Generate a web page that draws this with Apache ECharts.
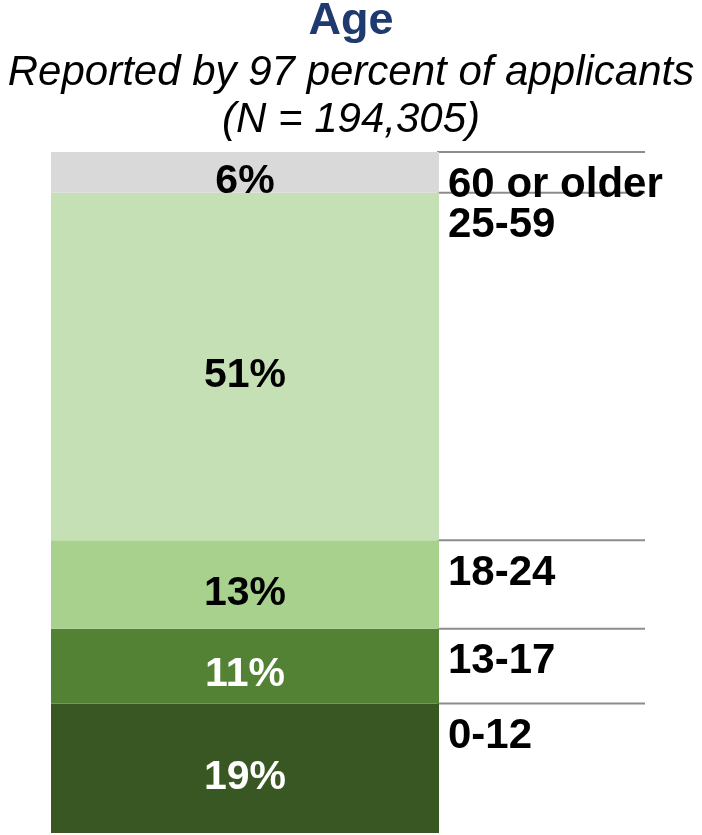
<!DOCTYPE html>
<html>
<head>
<meta charset="utf-8">
<script src="https://cdn.jsdelivr.net/npm/echarts@6/dist/echarts.min.js"></script>
<style>
  html, body { margin: 0; padding: 0; background: #ffffff; }
  #chart { width: 702px; height: 835px; }
</style>
</head>
<body>
<div id="chart"></div>
<script>
// ---- Data (bottom to top) ----
const categories = ['0-12', '13-17', '18-24', '25-59', '60 or older'];
const shares = [19, 11, 13, 51, 6];
const segmentColors = ['#385723', '#548235', '#a9d18e', '#c5e0b4', '#d9d9d9'];
const labelColors = ['#ffffff', '#ffffff', '#000000', '#000000', '#000000'];
const titleText = 'Age';
const subtitleLines = ['Reported by 97 percent of applicants', '(N = 194,305)'];

const FONT = '"Liberation Sans", Arial, sans-serif';

// cumulative top of each segment
const tops = [];
let acc = 0;
shares.forEach(function (s) { acc += s; tops.push(acc); });

const barSeries = categories.map(function (name, i) {
  return {
    name: name,
    type: 'bar',
    stack: 'age',
    xAxisIndex: 0,
    yAxisIndex: 0,
    barWidth: '100%',
    data: [shares[i]],
    itemStyle: { color: segmentColors[i] },
    label: {
      show: true,
      position: 'inside',
      formatter: '{c}%',
      color: labelColors[i],
      fontFamily: FONT,
      fontWeight: 'bold',
      fontSize: 41,
      offset: [0, 9]
    }
  };
});

const guideSeries = {
  type: 'custom',
  xAxisIndex: 1,
  yAxisIndex: 1,
  data: tops.map(function (t, i) { return [0, t, i]; }),
  renderItem: function (params, api) {
    const y = api.value(1);
    const idx = api.value(2);
    const p0 = api.coord([0, y]);
    const p1 = api.coord([1, y]);
    return {
      type: 'group',
      children: [
        {
          type: 'line',
          shape: { x1: p0[0], y1: p0[1], x2: p1[0], y2: p1[1] },
          style: { stroke: '#8c8c8c', lineWidth: 2 }
        },
        {
          type: 'text',
          x: p0[0] + 11,
          y: p0[1] + 33,
          style: {
            text: categories[idx],
            font: 'bold 42px ' + FONT,
            fill: '#000000',
            align: 'left',
            verticalAlign: 'middle'
          }
        }
      ]
    };
  }
};

const subtitleTitles = subtitleLines.map(function (line, i) {
  return {
    text: line,
    left: 'center',
    top: 50 + i * 47,
    padding: 0,
    textStyle: { color: '#000000', fontFamily: FONT, fontWeight: 'normal', fontStyle: 'italic', fontSize: 42, lineHeight: 47 }
  };
});

const chart = echarts.init(document.getElementById('chart'), null, { renderer: 'canvas' });
chart.setOption({
  animation: false,
  backgroundColor: '#ffffff',
  title: [
    {
      text: titleText,
      left: 'center',
      top: 0,
      padding: 0,
      textStyle: { color: '#1f3a6e', fontFamily: FONT, fontWeight: 'bold', fontSize: 45, lineHeight: 44 }
    }
  ].concat(subtitleTitles),
  grid: [
    { left: 51, width: 388, top: 152, bottom: 2 },
    { left: 437, width: 208, top: 152, bottom: 2 }
  ],
  xAxis: [
    { type: 'category', gridIndex: 0, data: ['Age'], show: false },
    { type: 'value', gridIndex: 1, min: 0, max: 1, show: false }
  ],
  yAxis: [
    { type: 'value', gridIndex: 0, min: 0, max: 100, show: false },
    { type: 'value', gridIndex: 1, min: 0, max: 100, show: false }
  ],
  series: barSeries.concat([guideSeries])
});
</script>
</body>
</html>
